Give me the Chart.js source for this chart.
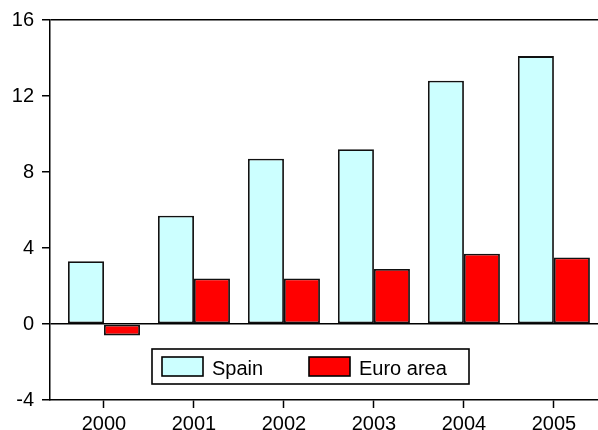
<!DOCTYPE html>
<html>
<head>
<meta charset="utf-8">
<script src="https://cdn.jsdelivr.net/npm/chart.js@4.4.1/dist/chart.umd.min.js"></script>
<style>
  html, body { margin: 0; padding: 0; background: #fff; overflow: hidden; }
  #wrap { width: 598px; height: 430px; }
</style>
</head>
<body>
<div id="wrap"><canvas id="chart" width="598" height="430"></canvas></div>
<script>
const years = ["2000", "2001", "2002", "2003", "2004", "2005"];
const spain = [3.3, 5.7, 8.7, 9.2, 12.8, 14.1];
const euroArea = [-0.6, 2.4, 2.4, 2.9, 3.7, 3.5];
const yTicks = [-4, 0, 4, 8, 12, 16];

const FONT = "'Liberation Sans', Arial, sans-serif";

// legend drawn inside the plot box, like the original
const insideLegend = {
    id: "insideLegend",
    afterDraw(chart, args, opts) {
        const ctx = chart.ctx;
        ctx.save();
        ctx.fillStyle = "#fff";
        ctx.fillRect(opts.left, opts.top, opts.width, opts.height);
        ctx.lineWidth = 1.6;
        ctx.strokeStyle = "#000";
        ctx.strokeRect(opts.left, opts.top, opts.width, opts.height);

        ctx.font = "20px " + FONT;
        ctx.textBaseline = "alphabetic";
        chart.data.datasets.forEach((ds, i) => {
            const x = opts.left + opts.itemX[i];
            const y = opts.top + 8;
            ctx.fillStyle = ds.backgroundColor;
            ctx.fillRect(x, y, opts.boxW, opts.boxH);
            ctx.lineWidth = 1.6;
            ctx.strokeStyle = "#000";
            ctx.strokeRect(x, y, opts.boxW, opts.boxH);
            ctx.fillStyle = "#000";
            ctx.fillText(ds.label, x + opts.boxW + 9, opts.top + 26);
        });
        ctx.restore();
    },
};

function buildChart() {
    const ctx = document.getElementById("chart").getContext("2d");
    new Chart(ctx, {
        type: "bar",
        data: {
            datasets: [
                {
                    label: "Spain",
                    data: years.map((_, i) => ({ x: i, y: spain[i] })),
                    backgroundColor: "#ccffff",
                    borderColor: "#111",
                    borderWidth: 1.8,
                    borderSkipped: false,
                },
                {
                    label: "Euro area",
                    data: years.map((_, i) => ({ x: i, y: euroArea[i] })),
                    backgroundColor: "#ff0000",
                    borderColor: "#111",
                    borderWidth: 1.8,
                    borderSkipped: false,
                },
            ],
        },
        options: {
            responsive: false,
            animation: false,
            devicePixelRatio: 1,
            categoryPercentage: 0.8,
            barPercentage: 1.0,
            layout: { padding: { top: 20, left: 0, right: 0, bottom: 0 } },
            plugins: {
                legend: { display: false },
                tooltip: { enabled: false },
                insideLegend: {
                    left: 152,
                    top: 349,
                    width: 317,
                    height: 35,
                    itemX: [10, 157],
                    boxW: 41,
                    boxH: 19,
                },
            },
            scales: {
                x: {
                    type: "linear",
                    offset: false,
                    min: -0.6,
                    max: 5.49,
                    afterBuildTicks: (axis) => {
                        axis.ticks = years.map((_, i) => ({ value: i }));
                    },
                    afterFit: (axis) => {
                        axis.height = 30;
                    },
                    ticks: {
                        callback: (v) => years[v],
                        color: "#000",
                        font: { family: FONT, size: 20 },
                        padding: 4,
                        maxRotation: 0,
                        autoSkip: false,
                    },
                    grid: {
                        offset: false,
                        drawOnChartArea: false,
                        tickLength: 8,
                        tickColor: "#000",
                        tickWidth: 1.5,
                    },
                    border: { color: "#000", width: 1.5 },
                },
                y: {
                    min: -4,
                    max: 16,
                    afterBuildTicks: (axis) => {
                        axis.ticks = yTicks.map((v) => ({ value: v }));
                    },
                    afterFit: (axis) => {
                        axis.width = 50;
                    },
                    ticks: {
                        color: "#000",
                        font: { family: FONT, size: 20 },
                        padding: 8,
                    },
                    grid: {
                        color: (c) => (c.tick && (c.tick.value === 0 || c.tick.value === 16) ? "#000" : "rgba(0,0,0,0)"),
                        lineWidth: 1.5,
                        tickLength: 8,
                        tickColor: "#000",
                        tickWidth: 1.5,
                    },
                    border: { color: "#000", width: 1.5 },
                },
            },
        },
        plugins: [insideLegend],
    });
}

document.addEventListener("DOMContentLoaded", buildChart);
</script>
</body>
</html>
